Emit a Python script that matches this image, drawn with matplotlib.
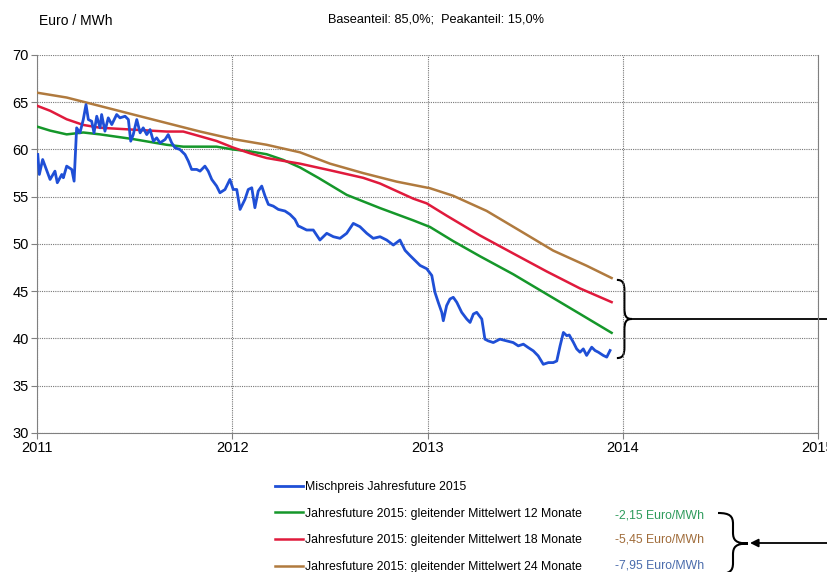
import numpy as np
import matplotlib
matplotlib.use("Agg")
import matplotlib.pyplot as plt
from matplotlib.path import Path
from matplotlib.patches import PathPatch

plt.rcParams["font.family"] = ["Liberation Sans", "DejaVu Sans"]

# --- data: years since 2011 and EUR/MWh ---
blue_t = [0.004, 0.012, 0.029, 0.067, 0.092, 0.104, 0.127, 0.135, 0.152, 0.178,
          0.190, 0.203, 0.220, 0.237, 0.251, 0.263, 0.280, 0.292, 0.306, 0.323,
          0.331, 0.348, 0.365, 0.383, 0.408, 0.425, 0.451, 0.468, 0.480, 0.493,
          0.511, 0.528, 0.544, 0.562, 0.579, 0.596, 0.613, 0.630, 0.656, 0.672,
          0.690, 0.707, 0.732, 0.758, 0.775, 0.792, 0.818, 0.835, 0.860, 0.877,
          0.895, 0.920, 0.937, 0.963, 0.988, 1.005, 1.023, 1.040, 1.065, 1.082,
          1.100, 1.116, 1.133, 1.151, 1.168, 1.185, 1.210, 1.236, 1.270, 1.296,
          1.321, 1.338, 1.347, 1.381, 1.415, 1.449, 1.484, 1.518, 1.552, 1.586,
          1.620, 1.654, 1.689, 1.722, 1.757, 1.791, 1.825, 1.859, 1.885, 1.910,
          1.936, 1.962, 1.996, 2.022, 2.038, 2.055, 2.073, 2.081, 2.098, 2.115,
          2.132, 2.150, 2.175, 2.201, 2.218, 2.235, 2.252, 2.278, 2.294, 2.311,
          2.337, 2.371, 2.406, 2.439, 2.465, 2.491, 2.516, 2.542, 2.567, 2.593,
          2.619, 2.644, 2.662, 2.679, 2.696, 2.713, 2.726, 2.747, 2.764, 2.781,
          2.798, 2.815, 2.841, 2.858, 2.875, 2.900, 2.918, 2.935]
blue_v = [59.47, 57.36, 58.94, 56.83, 57.71, 56.48, 57.36, 57.01, 58.24, 57.89,
          56.65, 62.29, 61.76, 63.17, 64.75, 63.17, 62.99, 61.76, 63.52, 62.29,
          63.70, 61.94, 63.35, 62.64, 63.70, 63.35, 63.52, 63.17, 60.88, 61.58,
          63.17, 61.76, 62.29, 61.58, 62.11, 60.88, 61.23, 60.70, 61.06, 61.58,
          60.70, 60.18, 60.00, 59.47, 58.77, 57.89, 57.89, 57.71, 58.24, 57.71,
          56.83, 56.13, 55.42, 55.77, 56.83, 55.77, 55.77, 53.66, 54.72, 55.77,
          55.95, 53.84, 55.60, 56.13, 55.07, 54.19, 54.01, 53.66, 53.49, 53.13,
          52.61, 51.90, 51.83, 51.48, 51.48, 50.42, 51.13, 50.77, 50.60, 51.13,
          52.18, 51.83, 51.13, 50.60, 50.77, 50.42, 49.89, 50.42, 49.33, 48.79,
          48.26, 47.73, 47.38, 46.67, 44.89, 43.83, 42.77, 41.88, 43.48, 44.18,
          44.36, 43.83, 42.77, 42.06, 41.70, 42.59, 42.77, 42.06, 39.93, 39.75,
          39.57, 39.93, 39.75, 39.57, 39.22, 39.40, 39.04, 38.69, 38.16, 37.27,
          37.45, 37.45, 37.62, 39.22, 40.64, 40.30, 40.37, 39.60, 38.90, 38.55,
          38.90, 38.21, 39.08, 38.73, 38.55, 38.21, 38.03, 38.73]

green_t = [0.004, 0.067, 0.152, 0.237, 0.323, 0.493, 0.664, 0.749, 0.920, 1.005,
           1.091, 1.176, 1.261, 1.347, 1.441, 1.586, 1.757, 1.927, 2.013, 2.132,
           2.269, 2.439, 2.610, 2.781, 2.943]
green_v = [62.4, 62.0, 61.6, 61.8, 61.6, 61.1, 60.5, 60.3, 60.3, 60.0,
           59.8, 59.5, 58.9, 58.1, 57.0, 55.2, 53.8, 52.5, 51.8, 50.3,
           48.7, 46.8, 44.7, 42.6, 40.6]

red_t = [0.004, 0.067, 0.152, 0.237, 0.323, 0.493, 0.664, 0.749, 0.835, 0.920,
         1.005, 1.091, 1.176, 1.261, 1.347, 1.501, 1.671, 1.757, 1.842, 1.927,
         1.996, 2.098, 2.269, 2.439, 2.610, 2.781, 2.943]
red_v = [64.6, 64.1, 63.2, 62.6, 62.3, 62.1, 61.9, 61.9, 61.4, 60.9,
         60.2, 59.6, 59.1, 58.8, 58.5, 57.8, 57.0, 56.4, 55.6, 54.8,
         54.3, 53.0, 50.9, 49.0, 47.1, 45.3, 43.85]

brown_t = [0.004, 0.152, 0.323, 0.493, 0.664, 0.835, 1.005, 1.176, 1.347, 1.501,
           1.671, 1.842, 2.013, 2.132, 2.303, 2.474, 2.644, 2.815, 2.943]
brown_v = [66.0, 65.5, 64.6, 63.7, 62.8, 61.9, 61.1, 60.5, 59.7, 58.5,
           57.5, 56.6, 55.9, 55.1, 53.5, 51.4, 49.3, 47.7, 46.4]

labels = ["Mischpreis Jahresfuture 2015",
          "Jahresfuture 2015: gleitender Mittelwert 12 Monate",
          "Jahresfuture 2015: gleitender Mittelwert 18 Monate",
          "Jahresfuture 2015: gleitender Mittelwert 24 Monate"]
diff_texts = ["-2,15 Euro/MWh", "-5,45 Euro/MWh", "-7,95 Euro/MWh"]
diff_colors = ["#2e9b5c", "#a06c3a", "#4a6cac"]

years = [2011, 2012, 2013, 2014, 2015]

c_blue = "#1f4fd6"
c_green = "#15972a"
c_red = "#e01a3c"
c_brown = "#b07a3e"


def brace_path(x0, ytop, ybot, w, qf=0.14):
    """Path of a right-pointing curly brace '}'."""
    ym = (ytop + ybot) / 2
    xh = x0 + w / 2
    q = (ytop - ybot) * qf
    verts = [(x0, ytop),
             (x0 + w * 0.4, ytop), (xh, ytop - q * 0.3), (xh, ytop - q),
             (xh, ym + q),
             (xh, ym + q * 0.3), (x0 + w * 0.6, ym), (x0 + w, ym),
             (x0 + w * 0.6, ym), (xh, ym - q * 0.3), (xh, ym - q),
             (xh, ybot + q),
             (xh, ybot + q * 0.3), (x0 + w * 0.4, ybot), (x0, ybot)]
    codes = [Path.MOVETO,
             Path.CURVE4, Path.CURVE4, Path.CURVE4,
             Path.LINETO,
             Path.CURVE4, Path.CURVE4, Path.CURVE4,
             Path.CURVE4, Path.CURVE4, Path.CURVE4,
             Path.LINETO,
             Path.CURVE4, Path.CURVE4, Path.CURVE4]
    return Path(verts, codes)


fig = plt.figure(figsize=(8.28, 5.72), dpi=100)
ax = fig.add_axes([37 / 828, 1 - 433 / 572, (818 - 37) / 828, (433 - 55) / 572])

t0 = 2011
ax.plot(np.array(blue_t) + t0, blue_v, color=c_blue, lw=2.0, label=labels[0], zorder=5)
ax.plot(np.array(green_t) + t0, green_v, color=c_green, lw=1.8, label=labels[1], zorder=4)
ax.plot(np.array(red_t) + t0, red_v, color=c_red, lw=1.8, label=labels[2], zorder=4)
ax.plot(np.array(brown_t) + t0, brown_v, color=c_brown, lw=1.8, label=labels[3], zorder=4)

ax.set_xlim(2011, 2015)
ax.set_ylim(30, 70)
ax.set_xticks(years)
ax.set_xticklabels([str(y) for y in years])
ax.set_yticks(range(30, 71, 5))
ax.tick_params(axis="both", labelsize=10.5, length=4, color="#808080", pad=2)
ax.grid(True, color="#777777", linestyle=(0, (1, 1)), linewidth=0.8)
for side in ["left", "bottom", "right"]:
    ax.spines[side].set_color("#808080")
ax.spines["top"].set_visible(False)

# brace next to the line ends, with a line running out to the right
end_t = t0 + blue_t[-1]
top = brown_v[-1] - 0.2
bot = blue_v[-1] - 0.8
bx = end_t + 0.035
bw = 0.077
ax.add_patch(PathPatch(brace_path(bx, top, bot, bw), fc="none", ec="black",
                       lw=1.5, clip_on=False))
ax.plot([bx + bw, 2015.1], [(top + bot) / 2] * 2, color="black", lw=1.3,
        clip_on=False)

# header texts
fig.text(39 / 828, 1 - 21 / 572, "Euro / MWh", fontsize=10, va="center", ha="left")
fig.text(436 / 828, 1 - 20 / 572, "Baseanteil: 85,0%;  Peakanteil: 15,0%",
         fontsize=9.2, va="center", ha="center")

# legend below the plot
fig.legend(loc="upper left", bbox_to_anchor=(275 / 828, 1 - 481 / 572),
           frameon=False, fontsize=8.8, handlelength=2.3, handletextpad=0.15,
           labelspacing=1.2, borderpad=0, borderaxespad=0)

# differences next to the legend entries
for i, (txt, col) in enumerate(zip(diff_texts, diff_colors)):
    fig.text(615 / 828, 1 - (515 + 25 * i) / 572, txt, color=col,
             fontsize=8.8, va="center", ha="left")

# second brace with arrow pointing at it
fig.add_artist(PathPatch(brace_path(718 / 828, 1 - 513 / 572, 1 - 574 / 572, 30 / 828,
                                    qf=0.18),
                         fc="none", ec="black", lw=1.5,
                         transform=fig.transFigure, clip_on=False))
ax.annotate("", xy=(750 / 828, 1 - 543 / 572), xytext=(1.0, 1 - 543 / 572),
            xycoords="figure fraction", textcoords="figure fraction",
            arrowprops=dict(arrowstyle="-|>", color="black", lw=1.3,
                            mutation_scale=12, shrinkA=0, shrinkB=0))

fig.savefig("out.png", dpi=100)
